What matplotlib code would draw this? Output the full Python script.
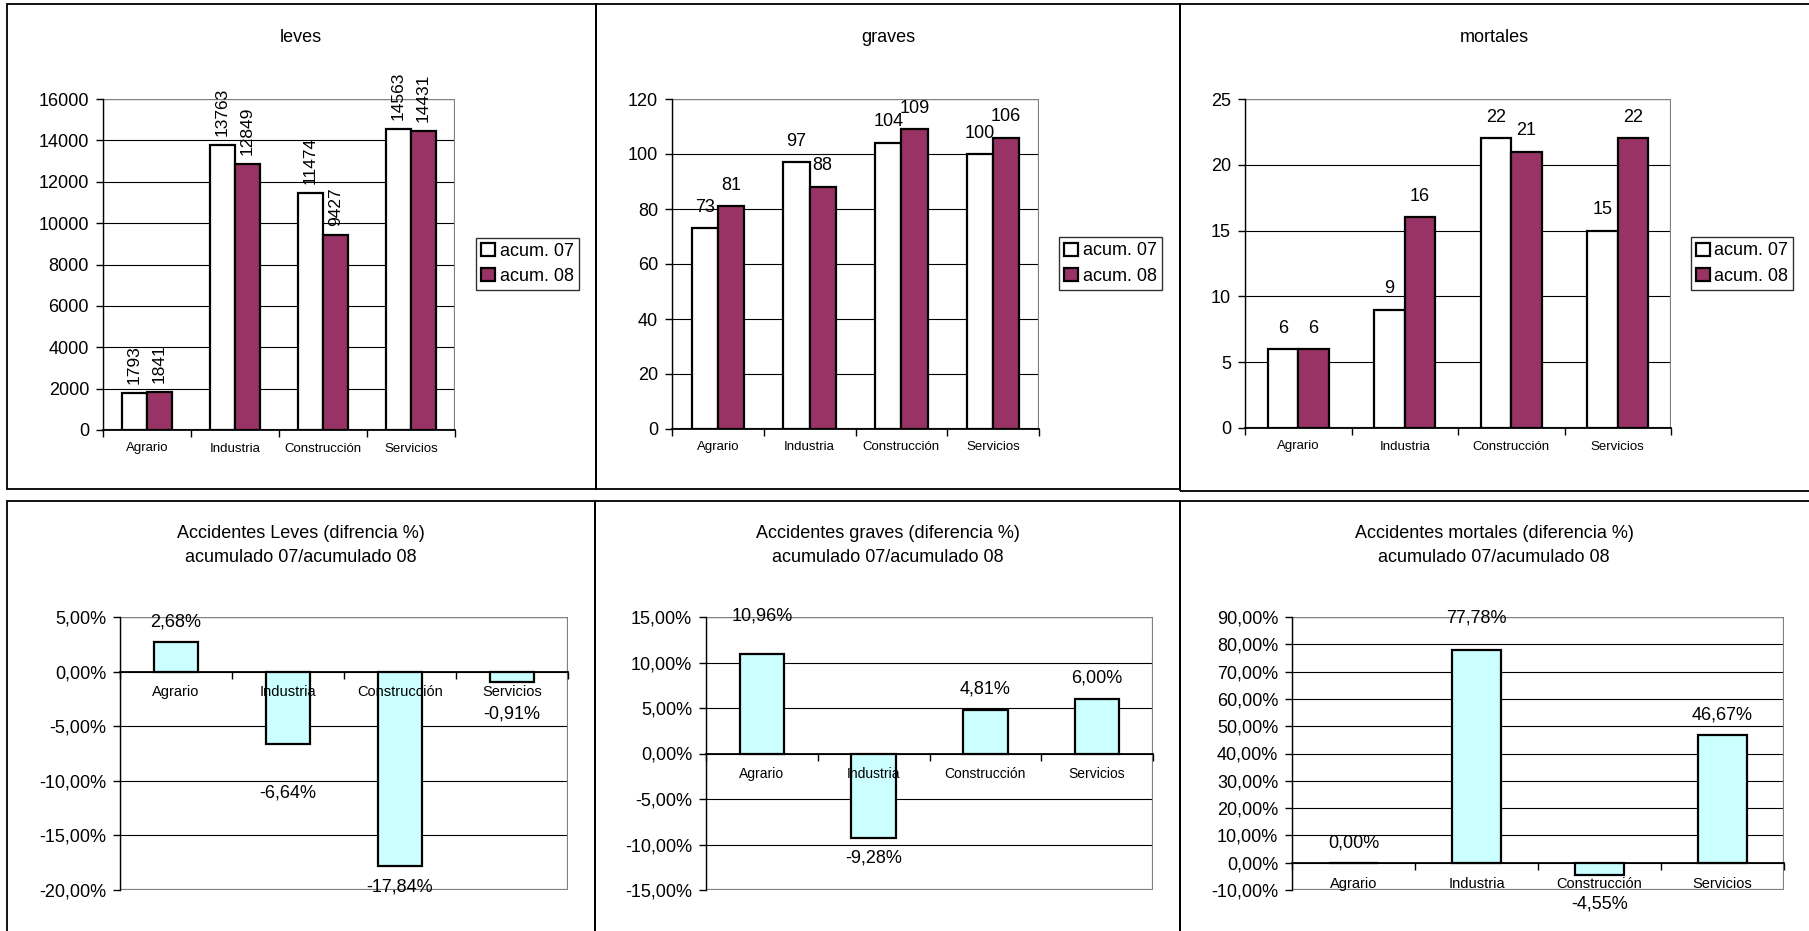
import matplotlib
matplotlib.use("Agg")
import matplotlib.pyplot as plt
import numpy as np
from matplotlib.patches import Rectangle
from matplotlib.ticker import FuncFormatter

plt.rcParams['font.family'] = ['Liberation Sans', 'DejaVu Sans']

W, H = 1809, 931

categories = ['Agrario', 'Industria', 'Construcción', 'Servicios']
series_names = ['acum. 07', 'acum. 08']

leves_07 = [1793, 13763, 11474, 14563]
leves_08 = [1841, 12849, 9427, 14431]
graves_07 = [73, 97, 104, 100]
graves_08 = [81, 88, 109, 106]
mortales_07 = [6, 9, 22, 15]
mortales_08 = [6, 16, 21, 22]

dif_leves = [2.68, -6.64, -17.84, -0.91]
dif_graves = [10.96, -9.28, 4.81, 6.00]
dif_mortales = [0.00, 77.78, -4.55, 46.67]

MAROON = '#993366'
CYAN = '#CCFFFF'
GREY = '#808080'


def px_rect(x0, y0, x1, y1):
    # pixel box (top-left origin) -> figure fraction
    return [x0 / W, 1 - y1 / H, (x1 - x0) / W, (y1 - y0) / H]


def pt(px):
    return px * 0.72


def frame(ax, yticks, zero_axis=False):
    # gridlines drawn by hand so they sit under the bars while tick labels stay on top
    ax.set_axisbelow(False)
    ax.set_yticks(yticks)
    for yv in yticks:
        ax.axhline(yv, color='black', linewidth=0.8, zorder=0.5)
    for s in ['top', 'right']:
        ax.spines[s].set_visible(False)
    ax.spines['left'].set_color('black')
    ax.spines['left'].set_linewidth(1.0)
    ax.spines['bottom'].set_color('black')
    ax.spines['bottom'].set_linewidth(1.3)
    if zero_axis:
        ax.spines['bottom'].set_position(('data', 0))
    ax.add_patch(Rectangle((0, 0), 1, 1, transform=ax.transAxes, fill=False,
                           edgecolor=GREY, linewidth=1.6, zorder=0.8))
    ax.set_xlim(-0.5, 3.5)
    ax.set_xticks(range(len(categories)))
    ax.set_xticks(np.arange(-0.5, len(categories)), minor=True)
    ax.tick_params(axis='x', which='major', length=0)
    ax.tick_params(axis='x', which='minor', length=5, width=1, direction='out')
    ax.tick_params(axis='y', length=5, width=1, direction='out', pad=5, labelsize=13)


def panel_box(x0, y0, x1, y1):
    fig.add_artist(Rectangle((x0 / W, 1 - y1 / H), (x1 - x0) / W, (y1 - y0) / H,
                             transform=fig.transFigure, fill=False,
                             edgecolor='black', linewidth=1.3))


fig = plt.figure(figsize=(W / 100, H / 100), dpi=100)
fig.patch.set_facecolor('white')

# panel frames
panel_box(7, 4, 596, 489)
panel_box(596, 4, 1180, 489)
panel_box(1180, 4, 1812, 491)
panel_box(7, 501, 595, 934)
panel_box(595, 501, 1180, 934)
panel_box(1180, 501, 1812, 934)

# ---------- top row: grouped bars ----------
w = 0.2857
x = np.arange(len(categories))

top = [
    ('leves', leves_07, leves_08, (103, 99, 455, 430), 16000, 2000, 301, (527.5, 264)),
    ('graves', graves_07, graves_08, (672, 99, 1039, 429), 120, 20, 888, (1110.5, 263.5)),
    ('mortales', mortales_07, mortales_08, (1245, 99, 1671, 428), 25, 5, 1494, (1742, 263.5)),
]

for i, (title, v07, v08, box, ymax, step, tx, leg) in enumerate(top):
    ax = fig.add_axes(px_rect(*box))
    b1 = ax.bar(x - w / 2, v07, w, color='white', edgecolor='black', linewidth=1.6,
                label=series_names[0])
    b2 = ax.bar(x + w / 2, v08, w, color=MAROON, edgecolor='black', linewidth=1.6,
                label=series_names[1])
    frame(ax, np.arange(0, ymax + 1, step))
    ax.set_ylim(0, ymax)
    ax.set_xticklabels(categories, fontsize=9.5)
    ax.tick_params(axis='x', which='major', pad=9)

    for xs, vals in [(x - w / 2, v07), (x + w / 2, v08)]:
        for xi, v in zip(xs, vals):
            if i == 0:
                ax.annotate(str(v), (xi, v), xytext=(0, pt(9)), textcoords='offset points',
                            ha='center', va='bottom', rotation=90, fontsize=12.5)
            else:
                ax.annotate(str(v), (xi, v), xytext=(0, pt(21)), textcoords='offset points',
                            ha='center', va='center', fontsize=13)

    fig.text(tx / W, 1 - 38 / H, title, ha='center', va='center', fontsize=13)
    fig.legend(handles=[b1, b2], loc='center', bbox_to_anchor=(leg[0] / W, 1 - leg[1] / H),
               fontsize=13, frameon=True, fancybox=False, edgecolor='black',
               handlelength=0.75, handleheight=0.75, handletextpad=0.25,
               borderpad=0.3, labelspacing=0.45, borderaxespad=0)

# ---------- bottom row: percentage difference ----------
pct_fmt = FuncFormatter(lambda v, p: f"{v:.2f}%".replace('.', ','))

bottom = [
    ('Accidentes Leves (difrencia %)', dif_leves, (120, 617, 568, 890), (-20, 5), 5, 301,
     [20, 49, 21, 32], 10.5),
    ('Accidentes graves (diferencia %)', dif_graves, (706, 617, 1153, 890), (-15, 15), 5, 888,
     [38, 20, 21, 21], 10),
    ('Accidentes mortales (diferencia %)', dif_mortales, (1292, 617, 1784, 890), (-10, 90), 10, 1494,
     [20, 32, 29, 20], 10.5),
]

for title, vals, box, ylim, step, tx, offs, cat_fs in bottom:
    ax = fig.add_axes(px_rect(*box))
    ax.bar(x, vals, 0.4, color=CYAN, edgecolor='black', linewidth=1.6)
    frame(ax, np.arange(ylim[0], ylim[1] + 0.1, step), zero_axis=True)
    ax.set_ylim(*ylim)
    ax.yaxis.set_major_formatter(pct_fmt)
    ax.set_xticklabels(categories, fontsize=cat_fs)
    ax.tick_params(axis='x', which='major', pad=10)

    for xi, v, off in zip(x, vals, offs):
        sign = 1 if v >= 0 else -1
        ax.annotate(f"{v:.2f}%".replace('.', ','), (xi, v), xytext=(0, sign * pt(off)),
                    textcoords='offset points', ha='center', va='center', fontsize=13,
                    annotation_clip=False)

    fig.text(tx / W, 1 - 534 / H, title, ha='center', va='center', fontsize=13)
    fig.text(tx / W, 1 - 558 / H, 'acumulado 07/acumulado 08', ha='center', va='center',
             fontsize=13)

fig.savefig('out.png', dpi=100, facecolor='white')
